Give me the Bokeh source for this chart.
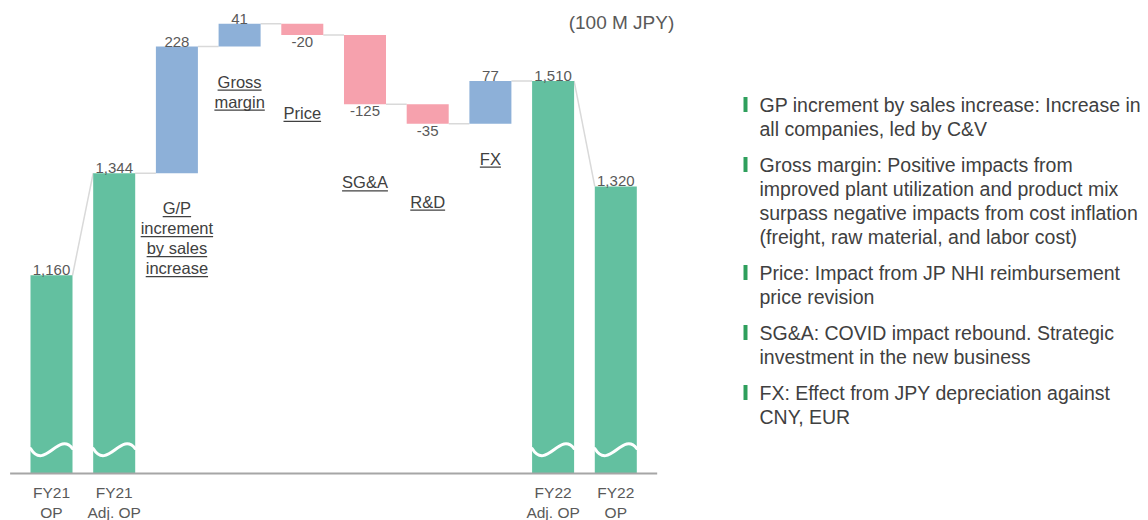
from bokeh.plotting import figure
from bokeh.models import Range1d, ColumnDataSource
from bokeh.embed import file_html
from bokeh.resources import INLINE
from bokeh.core.properties import value

# ---------------- data ----------------
categories = ["FY21 OP", "FY21 Adj. OP", "G/P increment by sales increase", "Gross margin",
              "Price", "SG&A", "R&D", "FX", "FY22 Adj. OP", "FY22 OP"]
values = [1160, 1344, 228, 41, -20, -125, -35, 77, 1510, 1320]
is_total = [True, True, False, False, False, False, False, False, True, True]
axis_labels = [["FY21", "OP"], ["FY21", "Adj. OP"], [], [], [], [], [], [],
               ["FY22", "Adj. OP"], ["FY22", "OP"]]
bar_labels = [[], [], ["G/P", "increment", "by sales", "increase"], ["Gross", "margin"],
              ["Price"], ["SG&A"], ["R&D"], ["FX"], [], []]
unit_label = "(100 M JPY)"
notes = [
    ["GP increment by sales increase: Increase in", "all companies, led by C&V"],
    ["Gross margin: Positive impacts from", "improved plant utilization and product mix",
     "surpass negative impacts from cost inflation", "(freight, raw material, and labor cost)"],
    ["Price: Impact from JP NHI reimbursement", "price revision"],
    ["SG&A: COVID impact rebound. Strategic", "investment in the new business"],
    ["FX: Effect from JPY depreciation against", "CNY, EUR"],
]

# ---------------- styling / geometry ----------------
W, H = 1148, 520
STEP = 62.7          # px per category
X0_PX = 51           # px of first bar centre
BASE_PX = 473        # px of the baseline
BASE_VAL = 803       # value at the (broken) baseline
PY = 0.5552          # px per value unit
BAR_W = 0.67
HW = BAR_W / 2

GREEN = "#63C0A0"
BLUE = "#8DB0D8"
PINK = "#F6A1AD"
TXT = "#404040"
VTXT = "#595959"
FONT = value("Liberation Sans")


def X(px):
    return (px - X0_PX) / STEP


def Y(py):
    return BASE_VAL + (BASE_PX - py) / PY


ARIAL = {
    'a': 556, 'b': 556, 'c': 500, 'd': 556, 'e': 556, 'f': 278, 'g': 556, 'h': 556, 'i': 222,
    'j': 222, 'k': 500, 'l': 222, 'm': 833, 'n': 556, 'o': 556, 'p': 556, 'q': 556, 'r': 333,
    's': 500, 't': 278, 'u': 556, 'v': 500, 'w': 722, 'x': 500, 'y': 500, 'z': 500,
    'A': 667, 'B': 667, 'C': 722, 'D': 722, 'E': 667, 'F': 611, 'G': 778, 'H': 722, 'I': 278,
    'J': 500, 'K': 667, 'L': 556, 'M': 833, 'N': 722, 'O': 778, 'P': 667, 'Q': 778, 'R': 722,
    'S': 667, 'T': 611, 'U': 722, 'V': 667, 'W': 944, 'X': 667, 'Y': 667, 'Z': 611,
    ' ': 278, '/': 278, '&': 667, '.': 278, '-': 333, ',': 278,
}


def text_w(s, size):
    return sum(ARIAL.get(c, 556) for c in s) * size / 1000.0


p = figure(width=W, height=H, x_range=Range1d(X(0), X(W)), y_range=Range1d(Y(H), Y(0)),
           x_axis_location=None, y_axis_location=None, min_border=0,
           toolbar_location=None, output_backend="svg", outline_line_color=None)
p.xgrid.grid_line_color = None
p.ygrid.grid_line_color = None
p.background_fill_color = "white"
p.border_fill_color = "white"

# ---------------- waterfall computation ----------------
n = len(values)
xs = list(range(n))
bottoms, tops, starts, ends, colors = [], [], [], [], []
level = 0
for v, t in zip(values, is_total):
    if t:
        s, e = v, v
        b, tp = BASE_VAL, v
        c = GREEN
    else:
        s, e = level, level + v
        b, tp = min(s, e), max(s, e)
        c = BLUE if v > 0 else PINK
    level = e
    starts.append(s); ends.append(e); bottoms.append(b); tops.append(tp); colors.append(c)

# connectors
p.segment(x0=[i + HW for i in range(n - 1)], y0=ends[:-1],
          x1=[i + 1 - HW for i in range(n - 1)], y1=starts[1:],
          line_color="#D9D9D9", line_width=1.5)

# bars
p.vbar(x=xs, width=BAR_W, bottom=bottoms, top=tops, fill_color=colors, line_color=None)

# squiggle (axis-break mark) on total bars
tx = [i for i in xs if is_total[i]]
SQ = Y(448)
sq_src = ColumnDataSource(dict(
    x0=[i - HW for i in tx], y0=[SQ] * len(tx),
    x1=[i + HW for i in tx], y1=[SQ] * len(tx),
    cx0=[i - HW + BAR_W / 3 for i in tx], cy0=[Y(471)] * len(tx),
    cx1=[i - HW + 2 * BAR_W / 3 for i in tx], cy1=[Y(430)] * len(tx),
))
p.bezier(x0="x0", y0="y0", x1="x1", y1="y1", cx0="cx0", cy0="cy0", cx1="cx1", cy1="cy1",
         source=sq_src, line_color="white", line_width=3, line_cap="round")

# baseline axis line
p.segment(x0=[-0.66], y0=[BASE_VAL], x1=[n - 1 + 0.66], y1=[BASE_VAL],
          line_color="#A6A6A6", line_width=2)

# value labels
up_x, up_y, up_t, dn_x, dn_y, dn_t = [], [], [], [], [], []
for i, v in enumerate(values):
    if v >= 0:
        up_x.append(i); up_y.append(tops[i]); up_t.append(f"{v:,}")
    else:
        dn_x.append(i); dn_y.append(bottoms[i]); dn_t.append(f"{v:,}")
p.text(x=up_x, y=up_y, text=up_t, text_align="center", text_baseline="bottom",
       text_font=FONT, text_font_size="15px", text_color=VTXT, y_offset=0)
p.text(x=dn_x, y=dn_y, text=dn_t, text_align="center", text_baseline="top",
       text_font=FONT, text_font_size="15px", text_color=VTXT, y_offset=2)

# category labels (underlined) for the bridge bars
CAT_FS = 16.5
LINE_H = 20
cx, cy, ct = [], [], []
ux0, ux1, uy = [], [], []
for i, lines in enumerate(bar_labels):
    if not lines:
        continue
    off = 35 if values[i] > 0 else 78
    base_px = BASE_PX - (bottoms[i] - BASE_VAL) * PY
    for k, line in enumerate(lines):
        ypx = base_px + off + k * LINE_H
        cx.append(i); cy.append(Y(ypx)); ct.append(line)
        w = text_w(line, CAT_FS) / STEP
        ux0.append(i - w / 2); ux1.append(i + w / 2); uy.append(Y(ypx + 8.5))
p.text(x=cx, y=cy, text=ct, text_align="center", text_baseline="middle",
       text_font=FONT, text_font_size=f"{CAT_FS}px", text_color=TXT)
p.segment(x0=ux0, y0=uy, x1=ux1, y1=uy, line_color=TXT, line_width=1.3)

# axis category labels for totals
ax_x, ax_y, ax_t = [], [], []
for i, lines in enumerate(axis_labels):
    for k, line in enumerate(lines):
        ax_x.append(i); ax_y.append(Y(BASE_PX + 19 + 20 * k)); ax_t.append(line)
p.text(x=ax_x, y=ax_y, text=ax_t, text_align="center", text_baseline="middle",
       text_font=FONT, text_font_size="15.5px", text_color=VTXT)

# unit label
p.text(x=[X(621)], y=[Y(22)], text=[unit_label], text_align="center", text_baseline="middle",
       text_font=FONT, text_font_size="19px", text_color=VTXT)

# notes on the right
NOTE_X = 759
NOTE_Y0 = 104
NOTE_LH = 24
NOTE_GAP = 36
nx, ny, nt, bx, by = [], [], [], [], []
ypx = NOTE_Y0
for para in notes:
    bx.append(X(745)); by.append(Y(ypx))
    for k, line in enumerate(para):
        nx.append(X(NOTE_X)); ny.append(Y(ypx)); nt.append(line)
        if k < len(para) - 1:
            ypx += NOTE_LH
    ypx += NOTE_GAP
p.rect(x=bx, y=by, width=4, height=15, width_units="screen", height_units="screen",
       fill_color="#2E9F5C", line_color=None)
p.text(x=nx, y=ny, text=nt, text_align="left", text_baseline="middle",
       text_font=FONT, text_font_size="19.5px", text_color=TXT)

open("out.html", "w").write(file_html(p, INLINE))
